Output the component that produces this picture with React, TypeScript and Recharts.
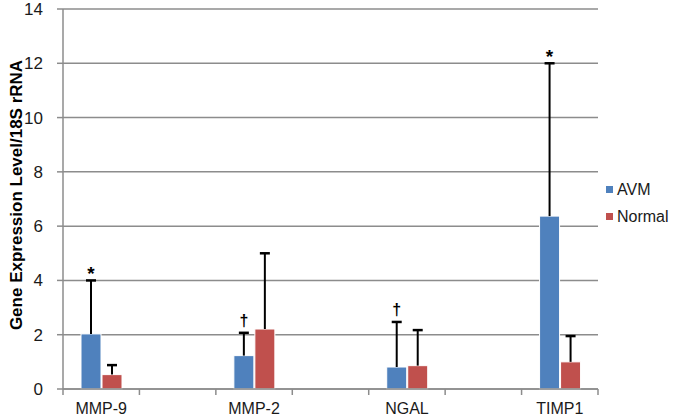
import React from 'react';
import { BarChart, Bar, XAxis, YAxis, CartesianGrid, Legend } from 'recharts';

const genes = ['MMP-9', 'MMP-2', 'NGAL', 'TIMP1'];
const avmMean = [2.03, 1.23, 0.81, 6.37];
const avmSD = [1.97, 0.84, 1.66, 5.63];
const avmSig = ['*', '†', '†', '*'];
const normalMean = [0.53, 2.21, 0.86, 1.0];
const normalSD = [0.35, 2.79, 1.31, 0.95];
const normalSig = ['', '', '', ''];
const yTicks = [0, 2, 4, 6, 8, 10, 12, 14];

const W = 675;
const H = 418;
const M = { top: 9, right: 77, bottom: 0, left: 0 };
const Y_W = 63;
const FONT = '"Liberation Sans", Arial, sans-serif';
const AVM_COLOR = '#4F81BD';
const NORMAL_COLOR = '#C0504D';
const GRID = '#8c8c8c';

type Row = {
  name: string;
  avm?: number;
  avmSD?: number;
  avmSig?: string;
  normal?: number;
  normalSD?: number;
  normalSig?: string;
};

const data: Row[] = [];
genes.forEach((g, i) => {
  if (i > 0) data.push({ name: '' });
  data.push({
    name: g,
    avm: avmMean[i],
    avmSD: avmSD[i],
    avmSig: avmSig[i],
    normal: normalMean[i],
    normalSD: normalSD[i],
    normalSig: normalSig[i],
  });
});

const BAND = (W - M.left - M.right - Y_W) / data.length;

const makeShape = (color: string, meanKey: keyof Row, sdKey: keyof Row, sigKey: keyof Row) =>
  (props: any) => {
    const { x, y, width, height, payload } = props;
    const mean = payload ? (payload[meanKey] as number | undefined) : undefined;
    if (mean == null || !height || !isFinite(height)) return <g />;
    const sd = (payload[sdKey] as number) || 0;
    const ppu = height / mean;
    const cx = x + width / 2;
    const top = y - sd * ppu;
    const sig = payload[sigKey] as string;
    return (
      <g>
        <rect x={x} y={y} width={width} height={height} fill={color} stroke="#ffffff" strokeWidth={1} />
        <line x1={cx} x2={cx} y1={y} y2={top} stroke="#000" strokeWidth={2} />
        <line x1={cx - 5} x2={cx + 5} y1={top} y2={top} stroke="#000" strokeWidth={2.5} />
        {sig ? (
          <text
            x={cx}
            y={top - (sig === '*' ? 0 : 7)}
            textAnchor="middle"
            fontFamily={FONT}
            fontSize={sig === '*' ? 19 : 16}
            fontWeight="bold"
            fill="#000"
          >
            {sig}
          </text>
        ) : null}
      </g>
    );
  };

const XTick = (props: any) => {
  const { x, y, payload, index } = props;
  const half = BAND / 2;
  return (
    <g>
      <line x1={x - half} x2={x - half} y1={y - 6} y2={y} stroke={GRID} strokeWidth={1.5} />
      {index === data.length - 1 ? (
        <line x1={x + half} x2={x + half} y1={y - 6} y2={y} stroke={GRID} strokeWidth={1.5} />
      ) : null}
      {payload && payload.value ? (
        <text x={x} y={y} dy={19} textAnchor="middle" fontFamily={FONT} fontSize={16} fill="#1a1a1a">
          {payload.value}
        </text>
      ) : null}
    </g>
  );
};

const YLabel = (props: any) => {
  const vb = props.viewBox || { x: 0, y: 9, width: 63, height: 380 };
  const cx = vb.x + 16;
  const cy = vb.y + vb.height / 2 - 4;
  return (
    <text
      x={cx}
      y={cy}
      transform={`rotate(-90 ${cx} ${cy})`}
      textAnchor="middle"
      dominantBaseline="central"
      fontFamily={FONT}
      fontSize={17}
      fontWeight="bold"
      fill="#000"
    >
      Gene Expression Level/18S rRNA
    </text>
  );
};

const LegendContent = (props: any) => {
  const items = props.payload || [];
  return (
    <div style={{ fontFamily: FONT, fontSize: 16, color: '#1a1a1a' }}>
      {items.map((p: any) => (
        <div key={p.value} style={{ display: 'flex', alignItems: 'center', height: 27 }}>
          <span style={{ display: 'inline-block', width: 7, height: 7, background: p.color, marginRight: 4 }} />
          <span>{p.value}</span>
        </div>
      ))}
    </div>
  );
};

export default function App() {
  return (
    <div style={{ position: 'absolute', left: 0, top: 0, width: W, height: H, background: '#fff' }}>
      <BarChart width={W} height={H} data={data} margin={M} barSize={20} barGap={1}>
        <CartesianGrid vertical={false} stroke={GRID} strokeWidth={1.5} />
        <XAxis
          dataKey="name"
          interval={0}
          height={29}
          tickLine={false}
          tickSize={6}
          tickMargin={0}
          axisLine={{ stroke: GRID, strokeWidth: 1.5 }}
          tick={<XTick />}
        />
        <YAxis
          width={Y_W}
          domain={[0, 14]}
          ticks={yTicks}
          interval={0}
          tickSize={6}
          tickMargin={14}
          axisLine={{ stroke: GRID, strokeWidth: 1.5 }}
          tickLine={{ stroke: GRID, strokeWidth: 1.5 }}
          tick={{ fontFamily: FONT, fontSize: 17, fill: '#1a1a1a' }}
          label={<YLabel />}
        />
        <Legend
          layout="vertical"
          align="center"
          verticalAlign="middle"
          content={<LegendContent />}
          wrapperStyle={{ left: 606, top: 176, width: 69 }}
        />
        <Bar dataKey="avm" name="AVM" fill={AVM_COLOR} isAnimationActive={false} shape={makeShape(AVM_COLOR, 'avm', 'avmSD', 'avmSig')} />
        <Bar dataKey="normal" name="Normal" fill={NORMAL_COLOR} isAnimationActive={false} shape={makeShape(NORMAL_COLOR, 'normal', 'normalSD', 'normalSig')} />
      </BarChart>
    </div>
  );
}
